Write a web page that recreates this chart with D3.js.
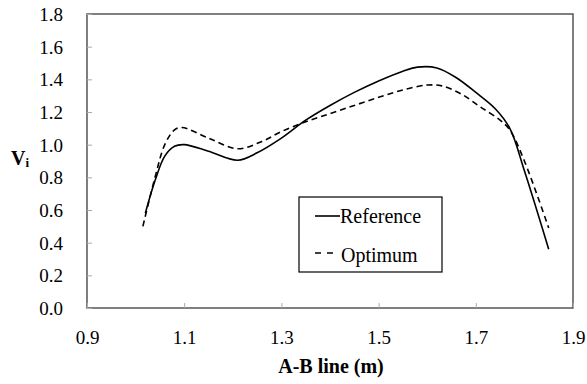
<!DOCTYPE html>
<html>
<head>
<meta charset="utf-8">
<script src="https://cdn.jsdelivr.net/npm/d3@7"></script>
<style>
  body { margin: 0; background: #fff; }
</style>
</head>
<body>
<svg id="chart" width="587" height="384"></svg>
<script>
// values
const refX = [1.02, 1.04, 1.06, 1.08, 1.10, 1.15, 1.21, 1.25, 1.30, 1.35, 1.40, 1.45, 1.50, 1.55, 1.58, 1.62, 1.66, 1.70, 1.74, 1.77, 1.80, 1.85];
const refY = [0.58, 0.78, 0.93, 0.99, 1.00, 0.96, 0.905, 0.95, 1.04, 1.15, 1.24, 1.32, 1.39, 1.45, 1.475, 1.47, 1.41, 1.32, 1.22, 1.10, 0.84, 0.36];
const optX = [1.015, 1.04, 1.06, 1.08, 1.095, 1.15, 1.21, 1.26, 1.30, 1.35, 1.40, 1.45, 1.50, 1.55, 1.60, 1.63, 1.67, 1.71, 1.75, 1.77, 1.80, 1.85];
const optY = [0.50, 0.80, 1.00, 1.09, 1.105, 1.04, 0.975, 1.02, 1.08, 1.14, 1.19, 1.24, 1.29, 1.335, 1.365, 1.36, 1.31, 1.23, 1.15, 1.09, 0.90, 0.49];
const xTicks = [0.9, 1.1, 1.3, 1.5, 1.7, 1.9];
const yTicks = [0.0, 0.2, 0.4, 0.6, 0.8, 1.0, 1.2, 1.4, 1.6, 1.8];

const FONT = "'Liberation Serif', 'DejaVu Serif', 'Times New Roman', serif";

const svg = d3.select("#chart").attr("font-family", FONT);
const plotL = 87, plotR = 573, plotT = 14, plotB = 308;

const x = d3.scaleLinear().domain([0.9, 1.9]).range([plotL, plotR]);
const y = d3.scaleLinear().domain([0, 1.8]).range([plotB, plotT]);

// frame
svg.append("rect")
  .attr("x", plotL).attr("y", plotT)
  .attr("width", plotR - plotL).attr("height", plotB - plotT)
  .attr("fill", "none").attr("stroke", "#555").attr("stroke-width", 1.5);

// inner ticks
let xAxis = svg.append("g").attr("transform", `translate(0,${plotB})`)
  .call(d3.axisBottom(x).tickValues(xTicks).tickSizeInner(-5).tickSizeOuter(0).tickFormat(d3.format(".1f")));
let yAxis = svg.append("g").attr("transform", `translate(${plotL},0)`)
  .call(d3.axisLeft(y).tickValues(yTicks).tickSizeInner(-5).tickSizeOuter(0).tickFormat(d3.format(".1f")));

[xAxis, yAxis].forEach(ax => {
  ax.attr("font-family", FONT).attr("font-size", 19);
  ax.select(".domain").remove();
  ax.selectAll(".tick line").attr("stroke", "#aaa");
  ax.selectAll(".tick text").attr("fill", "#000").style("font-family", FONT);
});
xAxis.selectAll(".tick text").attr("dy", null).attr("y", 36);
yAxis.selectAll(".tick text").attr("x", -24).attr("dy", "0.34em");

// axis titles
svg.append("text")
  .attr("x", 331).attr("y", 373)
  .attr("text-anchor", "middle")
  .style("font-family", FONT)
  .attr("font-size", 20).attr("font-weight", "bold")
  .text("A-B line (m)");

let vLabel = svg.append("text")
  .attr("x", 11).attr("y", 165)
  .style("font-family", FONT)
  .attr("font-size", 20).attr("font-weight", "bold");
vLabel.append("tspan").text("V");
vLabel.append("tspan").attr("font-size", 13).attr("dy", 2).text("i");

// curves
const line = d3.line()
  .x(d => x(d[0]))
  .y(d => y(d[1]))
  .curve(d3.curveCatmullRom.alpha(0.5));

svg.append("path")
  .datum(d3.zip(refX, refY))
  .attr("d", line)
  .attr("fill", "none").attr("stroke", "#000").attr("stroke-width", 1.6);

svg.append("path")
  .datum(d3.zip(optX, optY))
  .attr("d", line)
  .attr("fill", "none").attr("stroke", "#000").attr("stroke-width", 1.6)
  .attr("stroke-dasharray", "6,4");

// legend
const legend = svg.append("g");
legend.append("rect")
  .attr("x", 299).attr("y", 197).attr("width", 143).attr("height", 75)
  .attr("fill", "#fff").attr("stroke", "#000").attr("stroke-width", 1.2);
legend.append("line")
  .attr("x1", 315).attr("x2", 340).attr("y1", 216).attr("y2", 216)
  .attr("stroke", "#000").attr("stroke-width", 1.6);
legend.append("line")
  .attr("x1", 315).attr("x2", 333).attr("y1", 253).attr("y2", 253)
  .attr("stroke", "#000").attr("stroke-width", 1.6)
  .attr("stroke-dasharray", "6,6");
legend.append("text").attr("x", 340).attr("y", 223).attr("font-size", 20).style("font-family", FONT).text("Reference");
legend.append("text").attr("x", 341).attr("y", 262).attr("font-size", 20).style("font-family", FONT).text("Optimum");
</script>
</body>
</html>
